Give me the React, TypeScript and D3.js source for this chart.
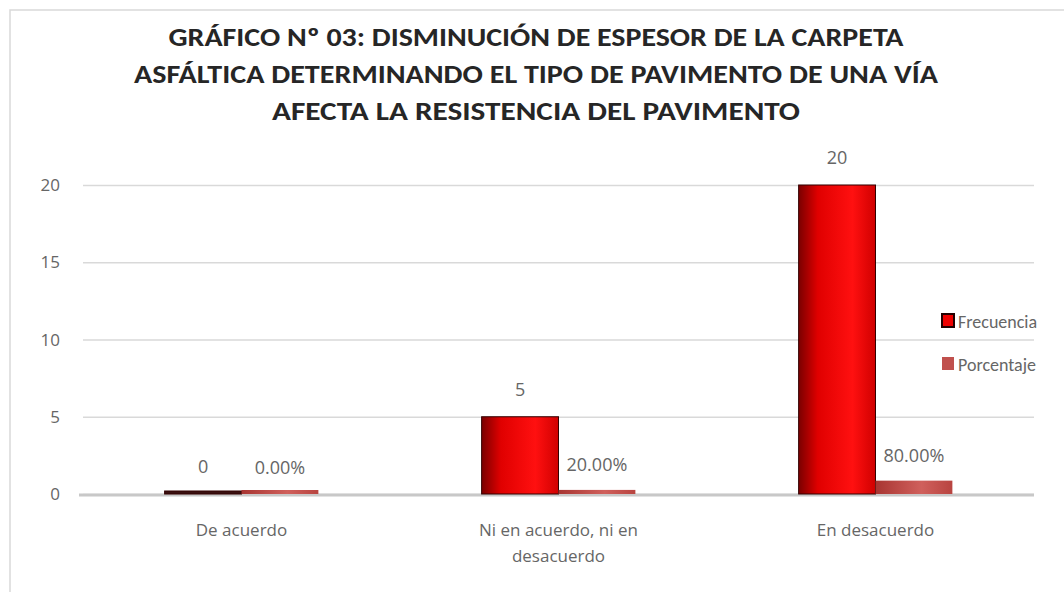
import { useEffect, useRef } from "react"
import * as d3 from "d3"

const categories = ["De acuerdo", "Ni en acuerdo, ni en desacuerdo", "En desacuerdo"]
const frecuencia = [0, 5, 20]
const porcentaje = [0, 0.2, 0.8]
const series = ["Frecuencia", "Porcentaje"]
const yTicks = [0, 5, 10, 15, 20]
const titleLines = [
  "GRÁFICO Nº 03: DISMINUCIÓN DE ESPESOR DE LA CARPETA",
  "ASFÁLTICA DETERMINANDO EL TIPO DE PAVIMENTO DE UNA VÍA",
  "AFECTA LA RESISTENCIA DEL PAVIMENTO",
]
const titleWidths = [735, 804, 528]

export default function App() {
  const svgRef = useRef<SVGSVGElement>(null)

  useEffect(() => {
    if (!svgRef.current) return
    const root = d3.select(svgRef.current)
    root.selectAll("*").remove()

    const width = 1064
    const height = 592
    const font = "'Open Sans', 'DejaVu Sans', sans-serif"
    const margin = { top: 185, right: 30, bottom: 98, left: 83 }
    const innerWidth = width - margin.left - margin.right
    const innerHeight = height - margin.top - margin.bottom

    root.attr("width", width).attr("height", height)

    // gradients
    const defs = root.append("defs")
    const g1 = defs.append("linearGradient").attr("id", "frec-grad").attr("x1", "0%").attr("x2", "100%")
    g1.append("stop").attr("offset", "0%").attr("stop-color", "#7a0000")
    g1.append("stop").attr("offset", "25%").attr("stop-color", "#e00000")
    g1.append("stop").attr("offset", "70%").attr("stop-color", "#ff1010")
    g1.append("stop").attr("offset", "100%").attr("stop-color", "#d00000")
    const g2 = defs.append("linearGradient").attr("id", "porc-grad").attr("x1", "0%").attr("x2", "100%")
    g2.append("stop").attr("offset", "0%").attr("stop-color", "#a83532")
    g2.append("stop").attr("offset", "60%").attr("stop-color", "#d0605c")
    g2.append("stop").attr("offset", "100%").attr("stop-color", "#b84440")

    // frame
    root
      .append("rect")
      .attr("x", 10)
      .attr("y", 10)
      .attr("width", width)
      .attr("height", height)
      .attr("fill", "#fff")
      .attr("stroke", "#d9d9d9")
      .attr("stroke-width", 1.5)

    // title
    root
      .append("g")
      .selectAll("text")
      .data(titleLines)
      .enter()
      .append("text")
      .attr("x", 536)
      .attr("y", (_, i) => 46 + i * 37)
      .attr("text-anchor", "middle")
      .attr("font-family", "Carlito, Lato, sans-serif")
      .attr("font-weight", "bold")
      .attr("font-size", 26)
      .attr("textLength", (_, i) => titleWidths[i])
      .attr("lengthAdjust", "spacingAndGlyphs")
      .attr("fill", "#262626")
      .text((d) => d)

    const svg = root.append("g").attr("transform", `translate(${margin.left},${margin.top})`)

    const x0 = d3.scaleBand().domain(categories).range([0, innerWidth]).paddingInner(0.515).paddingOuter(0.2575)
    const x1 = d3.scaleBand().domain(series).range([0, x0.bandwidth()])
    const y = d3.scaleLinear().domain([0, 20]).range([innerHeight, 0])

    // grid
    svg
      .append("g")
      .call(
        d3
          .axisLeft(y)
          .tickValues(yTicks)
          .tickSize(-innerWidth)
          .tickFormat(() => ""),
      )
      .call((g) => g.select(".domain").remove())
      .selectAll("line")
      .attr("stroke", "#d9d9d9")
      .attr("stroke-width", 1.5)

    // y labels
    svg
      .append("g")
      .selectAll("text")
      .data(yTicks)
      .enter()
      .append("text")
      .attr("x", -23)
      .attr("y", (d) => y(d) + 6)
      .attr("text-anchor", "end")
      .attr("font-family", font)
      .attr("font-size", 17)
      .attr("fill", "#666")
      .text((d) => d)

    // baseline
    svg
      .append("line")
      .attr("x1", -4)
      .attr("x2", innerWidth)
      .attr("y1", y(0) + 1)
      .attr("y2", y(0) + 1)
      .attr("stroke", "#c8c8c8")
      .attr("stroke-width", 3)

    const groups = svg
      .append("g")
      .selectAll("g")
      .data(categories)
      .enter()
      .append("g")
      .attr("transform", (d) => `translate(${x0(d)},0)`)

    const minH = 3

    // frecuencia bars
    groups
      .append("rect")
      .attr("x", x1("Frecuencia")!)
      .attr("width", x1.bandwidth())
      .attr("y", (_, i) => Math.min(y(frecuencia[i]), innerHeight - minH))
      .attr("height", (_, i) => Math.max(innerHeight - y(frecuencia[i]), minH))
      .attr("fill", (_, i) => (frecuencia[i] === 0 ? "#3a1010" : "url(#frec-grad)"))
      .attr("stroke", "#300")
      .attr("stroke-width", 1)

    // porcentaje bars
    groups
      .append("rect")
      .attr("x", x1("Porcentaje")!)
      .attr("width", x1.bandwidth())
      .attr("y", (_, i) => Math.min(y(porcentaje[i]), innerHeight - minH) - 1)
      .attr("height", (_, i) => Math.max(innerHeight - y(porcentaje[i]), minH) + 1)
      .attr("fill", "url(#porc-grad)")

    // data labels
    const lab = (sel: any) =>
      sel.attr("text-anchor", "middle").attr("font-family", font).attr("font-size", 18).attr("fill", "#666")

    groups
      .append("text")
      .attr("x", x1("Frecuencia")! + x1.bandwidth() / 2)
      .attr("y", (_, i) => y(frecuencia[i]) - 21)
      .call(lab)
      .text((_, i) => String(frecuencia[i]))

    groups
      .append("text")
      .attr("x", x1("Porcentaje")! + x1.bandwidth() / 2)
      .attr("y", (_, i) => y(porcentaje[i]) - 20)
      .call(lab)
      .text((_, i) => (porcentaje[i] * 100).toFixed(2) + "%")

    // category labels
    const catLines: Record<string, string[]> = {
      "De acuerdo": ["De acuerdo"],
      "Ni en acuerdo, ni en desacuerdo": ["Ni en acuerdo, ni en", "desacuerdo"],
      "En desacuerdo": ["En desacuerdo"],
    }
    const catText = svg
      .append("g")
      .selectAll("text")
      .data(categories)
      .enter()
      .append("text")
      .attr("x", (d) => x0(d)! + x0.bandwidth() / 2)
      .attr("y", innerHeight + 42)
      .attr("text-anchor", "middle")
      .attr("font-family", font)
      .attr("font-size", 17)
      .attr("fill", "#666")
    catText
      .selectAll("tspan")
      .data((d) => catLines[d])
      .enter()
      .append("tspan")
      .attr("x", function () {
        return (this as any).parentNode.getAttribute("x")
      })
      .attr("dy", (_, i) => (i === 0 ? 0 : 26))
      .text((d) => d)

    // legend
    const legend = root
      .append("g")
      .attr("transform", "translate(942,314)")
      .selectAll("g")
      .data(series)
      .enter()
      .append("g")
      .attr("transform", (_, i) => `translate(0,${i * 43})`)
    legend
      .append("rect")
      .attr("x", 0)
      .attr("y", 0)
      .attr("width", 12)
      .attr("height", 13)
      .attr("fill", (d) => (d === "Frecuencia" ? "#ee0000" : "#c0504d"))
      .attr("stroke", (d) => (d === "Frecuencia" ? "#200" : "none"))
      .attr("stroke-width", 2)
    legend
      .append("text")
      .attr("x", 16)
      .attr("y", 14)
      .attr("font-family", "Carlito, Lato, sans-serif")
      .attr("font-size", 18)
      .attr("fill", "#666")
      .text((d) => d)
  }, [])

  return <svg ref={svgRef} style={{ position: "absolute", left: 0, top: 0 }} />
}
